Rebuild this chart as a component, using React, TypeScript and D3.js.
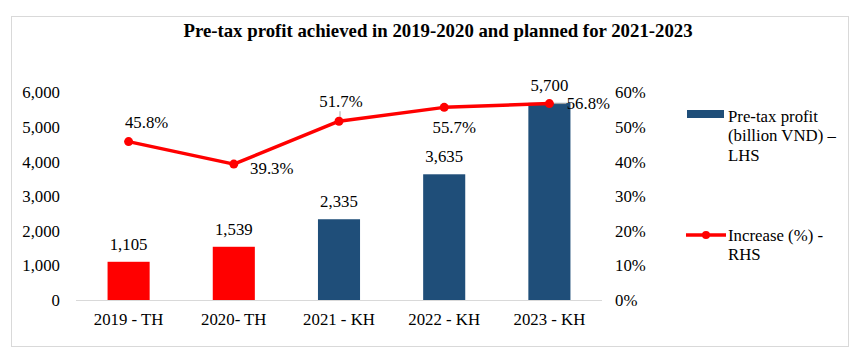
import React from "react";
import * as d3 from "d3";

const categories = ["2019 - TH", "2020- TH", "2021 - KH", "2022 - KH", "2023 - KH"];
const profit = [1105, 1539, 2335, 3635, 5700];
const increase = [45.8, 39.3, 51.7, 55.7, 56.8];
const leftTicks = [0, 1000, 2000, 3000, 4000, 5000, 6000];
const rightTicks = [0, 10, 20, 30, 40, 50, 60];
const barColors = ["#FF0000", "#FF0000", "#1F4E79", "#1F4E79", "#1F4E79"];
// label placement for line data labels: dx, dy relative to point
const lineLabelPos = [
  { dx: 18, dy: -19 },
  { dx: 38, dy: 4 },
  { dx: 2, dy: -20 },
  { dx: 10, dy: 20 },
  { dx: 39, dy: 0 },
];

const W = 861;
const H = 360;
const FONT = "Liberation Serif";
const T: React.CSSProperties = { fontFamily: FONT, fontSize: "16.8px" };

export default function App() {
  const x0 = 76, x1 = 602, yTop = 92.5, yBot = 300;
  const x = d3.scaleBand<string>().domain(categories).range([x0, x1]).paddingInner(0.6).paddingOuter(0.3);
  const xc = (c: string) => (x(c) as number) + x.bandwidth() / 2;
  const yL = d3.scaleLinear().domain([0, 6000]).range([yBot, yTop]);
  const yR = d3.scaleLinear().domain([0, 60]).range([yBot, yTop]);
  const fmt = d3.format(",");
  const line = d3
    .line<number>()
    .x((_, i) => xc(categories[i]))
    .y((d) => yR(d));

  return (
    <svg
      width={W}
      height={H}
      style={{ position: "absolute", left: 0, top: 0, background: "#fff", fontFamily: FONT }}
    >
      <rect x={11.5} y={16.5} width={837} height={330} fill="#fff" stroke="#D9D9D9" strokeWidth={1} />
      <text x={438} y={30.5} dy="0.35em" textAnchor="middle" style={{ fontFamily: FONT, fontSize: "18.8px", fontWeight: "bold" }} fill="#000">
        Pre-tax profit achieved in 2019-2020 and planned for 2021-2023
      </text>

      {/* left axis labels */}
      {leftTicks.map((t) => (
        <text key={"l" + t} x={60} y={yL(t)} dy="0.35em" textAnchor="end" style={T} fill="#000">
          {fmt(t)}
        </text>
      ))}
      {/* right axis labels */}
      {rightTicks.map((t) => (
        <text key={"r" + t} x={615} y={yR(t)} dy="0.35em" textAnchor="start" style={T} fill="#000">
          {t + "%"}
        </text>
      ))}

      {/* bars */}
      {profit.map((v, i) => (
        <rect
          key={"b" + i}
          x={x(categories[i]) as number}
          y={yL(v)}
          width={x.bandwidth()}
          height={yBot - yL(v)}
          fill={barColors[i]}
        />
      ))}
      {/* baseline */}
      <line x1={x0} x2={x1} y1={yBot + 0.5} y2={yBot + 0.5} stroke="#D9D9D9" strokeWidth={1} />

      {/* bar labels */}
      {profit.map((v, i) => (
        <text key={"bl" + i} x={xc(categories[i])} y={yL(v) - 18} dy="0.35em" textAnchor="middle" style={T} fill="#000">
          {fmt(v)}
        </text>
      ))}

      {/* x labels */}
      {categories.map((c) => (
        <text key={"x" + c} x={xc(c)} y={319} dy="0.35em" textAnchor="middle" style={T} fill="#000">
          {c}
        </text>
      ))}

      {/* leader lines */}
      <line x1={xc(categories[2]) + 1} x2={xc(categories[2]) + 1} y1={yR(increase[2]) - 10} y2={yR(increase[2]) - 2} stroke="#A6A6A6" strokeWidth={1} />
      <line x1={xc(categories[4]) + 4} x2={xc(categories[4]) + 17} y1={yR(increase[4])} y2={yR(increase[4])} stroke="#A6A6A6" strokeWidth={1} />

      {/* line */}
      <path d={line(increase) as string} fill="none" stroke="#FF0000" strokeWidth={3.5} strokeLinejoin="round" />
      {increase.map((v, i) => (
        <circle key={"c" + i} cx={xc(categories[i])} cy={yR(v)} r={4.5} fill="#FF0000" />
      ))}
      {increase.map((v, i) => (
        <text
          key={"ll" + i}
          x={xc(categories[i]) + lineLabelPos[i].dx}
          y={yR(v) + lineLabelPos[i].dy}
          dy="0.35em"
          textAnchor="middle"
          style={T}
          fill="#000"
        >
          {v.toFixed(1) + "%"}
        </text>
      ))}

      {/* legend */}
      <rect x={687} y={110} width={37} height={8} fill="#1F4E79" />
      <text style={T} fill="#000">
        <tspan x={728} y={116} dy="0.35em">Pre-tax profit</tspan>
        <tspan x={728} y={135.5} dy="0.35em">(billion VND) –</tspan>
        <tspan x={728} y={155} dy="0.35em">LHS</tspan>
      </text>
      <line x1={686} x2={726} y1={235} y2={235} stroke="#FF0000" strokeWidth={3.5} />
      <circle cx={706} cy={235} r={4} fill="#FF0000" />
      <text style={T} fill="#000">
        <tspan x={728} y={235} dy="0.35em">Increase (%) -</tspan>
        <tspan x={728} y={254.5} dy="0.35em">RHS</tspan>
      </text>
    </svg>
  );
}
